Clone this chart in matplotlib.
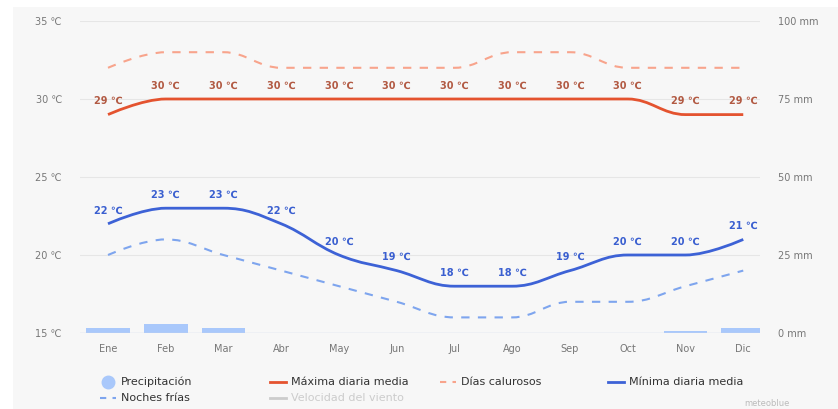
import numpy as np
import matplotlib
matplotlib.use("Agg")
import matplotlib.pyplot as plt
from matplotlib.path import Path
from matplotlib.patches import PathPatch, Rectangle
from matplotlib.lines import Line2D

meses = ["Ene", "Feb", "Mar", "Abr", "May", "Jun", "Jul", "Ago", "Sep", "Oct", "Nov", "Dic"]
maxima = [29, 30, 30, 30, 30, 30, 30, 30, 30, 30, 29, 29]
minima = [22, 23, 23, 22, 20, 19, 18, 18, 19, 20, 20, 21]
calurosos = [32, 33, 33, 32, 32, 32, 32, 33, 33, 32, 32, 32]
frias = [20, 21, 20, 19, 18, 17, 16, 16, 17, 17, 18, 19]
precip = [1.7, 2.8, 1.7, 0, 0, 0, 0, 0, 0, 0, 0.7, 1.7]

c_max = "#e4532f"
c_cal = "#f8a48c"
c_min = "#3d62d6"
c_fri = "#7ea5ee"
c_bar = "#a9c8fb"


def spline_path(ax, xs, ys, smoothing=1.5):
    # highcharts-like bezier spline, computed in pixel space then mapped back
    pts = ax.transData.transform(np.column_stack([xs, ys]))
    n = len(pts)
    left = pts.copy()
    right = pts.copy()
    for i in range(1, n - 1):
        (lx, ly), (px, py), (nx, ny) = pts[i - 1], pts[i], pts[i + 1]
        d = smoothing + 1
        lcx, lcy = (smoothing * px + lx) / d, (smoothing * py + ly) / d
        rcx, rcy = (smoothing * px + nx) / d, (smoothing * py + ny) / d
        corr = (rcy - lcy) * (rcx - px) / (rcx - lcx) + py - rcy
        lcy += corr
        rcy += corr
        if lcy > ly and lcy > py:
            lcy = max(ly, py); rcy = 2 * py - lcy
        elif lcy < ly and lcy < py:
            lcy = min(ly, py); rcy = 2 * py - lcy
        if rcy > ny and rcy > py:
            rcy = max(ny, py); lcy = 2 * py - rcy
        elif rcy < ny and rcy < py:
            rcy = min(ny, py); lcy = 2 * py - rcy
        left[i] = (lcx, lcy)
        right[i] = (rcx, rcy)
    verts = [pts[0]]
    codes = [Path.MOVETO]
    for i in range(1, n):
        verts += [right[i - 1], left[i], pts[i]]
        codes += [Path.CURVE4] * 3
    verts = ax.transData.inverted().transform(np.array(verts))
    return Path(verts, codes)


fig = plt.figure(figsize=(8.38, 4.09), dpi=100)
fig.patch.set_facecolor("white")
fig.add_artist(Rectangle((13 / 838, 0), 1, 1 - 7 / 409, transform=fig.transFigure,
                         facecolor="#f7f7f7", edgecolor="none", zorder=-10))

ax = fig.add_axes([80 / 838, 1 - 333 / 409, 680 / 838, 312 / 409])
ax.set_facecolor("none")
x = np.arange(len(meses))
ax.set_xlim(-0.485, 11.29)
ax.set_ylim(15, 35)

ax2 = ax.twinx()
ax2.set_ylim(0, 100)
ax2.bar(x, precip, width=0.76, color=c_bar, zorder=1)
ax.set_zorder(ax2.get_zorder() + 1)

for s in list(ax.spines.values()) + list(ax2.spines.values()):
    s.set_visible(False)

ax.set_yticks([15, 20, 25, 30, 35])
ax.set_yticklabels([f"{v} ℃" for v in [15, 20, 25, 30, 35]])
ax2.set_yticks([0, 25, 50, 75, 100])
ax2.set_yticklabels([f"{v} mm" for v in [0, 25, 50, 75, 100]])
ax.set_xticks(x)
ax.set_xticklabels(meses)
for a in (ax, ax2):
    a.tick_params(length=0, labelsize=7, labelcolor="#777777")
ax.tick_params(axis="y", pad=13)
ax.tick_params(axis="x", pad=8)
ax2.tick_params(axis="y", pad=13)
for v in [20, 25, 30, 35]:
    ax.axhline(v, color="#e6e6e6", lw=0.8, zorder=0)
ax.axhline(15, color="#ccd6eb", lw=1, zorder=0.5)

fig.canvas.draw()
for ys, col, ls, lw in [(calurosos, c_cal, (0, (4, 4)), 1.5),
                        (frias, c_fri, (0, (4, 4)), 1.5),
                        (maxima, c_max, "-", 2),
                        (minima, c_min, "-", 2)]:
    p = spline_path(ax, x, ys)
    ax.add_patch(PathPatch(p, facecolor="none", edgecolor=col, lw=lw,
                           linestyle=ls, zorder=3, capstyle="butt"))

for xi, v in zip(x, maxima):
    ax.annotate(f"{v} ℃", (xi, v), xytext=(0, 6), textcoords="offset points",
                ha="center", va="bottom", fontsize=7, fontweight="bold", color="#b25a43", zorder=5)
for xi, v in zip(x, minima):
    ax.annotate(f"{v} ℃", (xi, v), xytext=(0, 6), textcoords="offset points",
                ha="center", va="bottom", fontsize=7, fontweight="bold", color="#3a5fd0", zorder=5)


def fx(px):
    return px / 838


def fy(py):
    return 1 - py / 409


items = [
    (100, 382, "marker", c_bar, "Precipitación", "#333333"),
    (270, 382, "-", c_max, "Máxima diaria media", "#333333"),
    (440, 382, "--", c_cal, "Días calurosos", "#333333"),
    (608, 382, "-", c_min, "Mínima diaria media", "#333333"),
    (100, 398, "--", c_fri, "Noches frías", "#333333"),
    (270, 398, "-", "#cccccc", "Velocidad del viento", "#cccccc"),
]
for px, py, kind, col, lab, tcol in items:
    if kind == "marker":
        fig.add_artist(Line2D([fx(px + 8)], [fy(py)], transform=fig.transFigure,
                              marker="o", markersize=9, color=col, linestyle="none"))
    else:
        fig.add_artist(Line2D([fx(px), fx(px + 16)], [fy(py), fy(py)], transform=fig.transFigure,
                              color=col, lw=2 if kind == "-" else 1.5,
                              linestyle=(0, (3, 3)) if kind == "--" else "-"))
    fig.text(fx(px + 21), fy(py), lab, fontsize=8, color=tcol, ha="left", va="center")

fig.text(fx(790), fy(403), "meteoblue", fontsize=6, color="#bbbbbb", ha="right", va="center")

fig.savefig("out.png", dpi=100, facecolor=fig.get_facecolor())
